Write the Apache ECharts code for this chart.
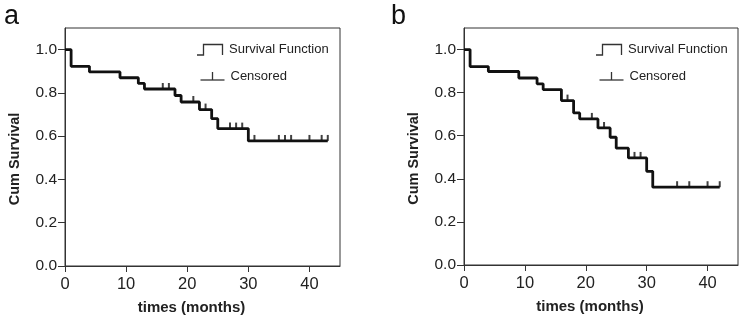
<!DOCTYPE html>
<html>
<head>
<meta charset="utf-8">
<script src="https://cdn.jsdelivr.net/npm/echarts@6/dist/echarts.min.js"></script>
<style>
html,body{margin:0;padding:0;background:#fff;}
#chart{width:744px;height:322px;}
</style>
</head>
<body>
<div id="chart"></div>
<script>
// Panel a: Kaplan-Meier step points (time in months, cumulative survival)
const aTimes = [0, 1, 4, 9, 12, 13, 18, 19, 22, 24, 25, 30, 43];
const aSurv  = [1.0, 0.923, 0.897, 0.870, 0.844, 0.818, 0.788, 0.758, 0.723, 0.681, 0.635, 0.578, 0.578];
const aCensored = [16, 17, 21, 23, 27, 28, 29, 31, 35, 36, 37, 40, 42, 43];

// Panel b
const bTimes = [0, 1, 4, 9, 12, 13, 16, 18, 19, 22, 24, 25, 27, 30, 31, 42];
const bSurv  = [1.0, 0.921, 0.898, 0.868, 0.841, 0.814, 0.763, 0.706, 0.678, 0.636, 0.593, 0.542, 0.497, 0.435, 0.361, 0.361];
const bCensored = [17, 21, 23, 28, 29, 35, 37, 40, 42];

const xTicks = [0, 10, 20, 30, 40];
const yTicks = [0, 0.2, 0.4, 0.6, 0.8, 1.0];
const panelLetters = ['a', 'b'];
const legendNames = ['Survival Function', 'Censored'];
const xTitle = 'times (months)';
const yTitle = 'Cum Survival';

function survAt(times, surv, t) {
  let s = surv[0];
  for (let i = 0; i < times.length; i++) { if (times[i] <= t) s = surv[i]; }
  return s;
}
function pairs(times, surv) { return times.map((t, i) => [t, surv[i]]); }
function censorPts(times, surv, cens) { return cens.map(t => [t, survAt(times, surv, t)]); }

const FONT = "'Liberation Sans', Arial, Helvetica, sans-serif";
const TXT = '#222';
const LINE = '#111';

const grids = [
  {left: 65, top: 28, width: 275, height: 238},
  {left: 464, top: 28, width: 274, height: 237}
];

function xAxisFor(i) {
  return {
    gridIndex: i, type: 'value', min: 0, max: 45,
    name: xTitle, nameLocation: 'middle', nameGap: 34,
    nameTextStyle: {fontFamily: FONT, fontSize: 15, fontWeight: 'bold', color: TXT, padding: [0, 22, 0, 0]},
    axisLine: {show: true, lineStyle: {color: '#333', width: 1}},
    axisTick: {show: true, inside: false, length: 6, lineStyle: {color: '#333'}, customValues: xTicks},
    axisLabel: {fontFamily: FONT, fontSize: 16.5, color: TXT, margin: 10, customValues: xTicks},
    splitLine: {show: false}
  };
}
function yAxisFor(i) {
  return {
    gridIndex: i, type: 'value', min: 0, max: 1.1,
    name: yTitle, nameLocation: 'middle', nameGap: 43, nameRotate: 90,
    nameTextStyle: {fontFamily: FONT, fontSize: 14.5, fontWeight: 'bold', color: TXT, padding: [0, 24, 0, 0]},
    axisLine: {show: true, lineStyle: {color: '#333', width: 1}},
    axisTick: {show: true, inside: false, length: 7, lineStyle: {color: '#333'}, customValues: yTicks},
    axisLabel: {fontFamily: FONT, fontSize: 15.5, color: TXT, margin: 8, customValues: yTicks,
      formatter: v => v.toFixed(1)},
    splitLine: {show: false}
  };
}

const panels = [
  {times: aTimes, surv: aSurv, cens: aCensored},
  {times: bTimes, surv: bSurv, cens: bCensored}
];

const series = [];
panels.forEach((p, i) => {
  series.push({
    type: 'line', name: legendNames[0], xAxisIndex: i, yAxisIndex: i,
    step: 'end', showSymbol: false, symbol: 'none',
    lineStyle: {color: LINE, width: 2.8}, data: pairs(p.times, p.surv), silent: true, animation: false
  });
  series.push({
    type: 'scatter', name: legendNames[1], xAxisIndex: i, yAxisIndex: i,
    symbol: 'rect', symbolSize: [2, 6], symbolOffset: [0, -3],
    itemStyle: {color: LINE}, data: censorPts(p.times, p.surv, p.cens), silent: true, animation: false
  });
});

const graphic = [];
grids.forEach((g, i) => {
  const L = g.left;
  graphic.push({type: 'text', x: i === 0 ? 4 : 391, y: 17,
    style: {text: panelLetters[i], font: '27px ' + FONT, fill: '#111', verticalAlign: 'middle'}});
  graphic.push({type: 'polyline', shape: {points: [[L + 132, 55], [L + 138.5, 55], [L + 138.5, 44.5], [L + 157.5, 44.5], [L + 157.5, 55]]},
    style: {stroke: '#333', lineWidth: 1.3, fill: null}});
  graphic.push({type: 'text', x: L + 164, y: 49.5,
    style: {text: legendNames[0], font: '13px ' + FONT, fill: TXT, verticalAlign: 'middle'}});
  graphic.push({type: 'polyline', shape: {points: [[L + 135.5, 80], [L + 159.5, 80]]},
    style: {stroke: '#333', lineWidth: 1.3, fill: null}});
  graphic.push({type: 'polyline', shape: {points: [[L + 147.5, 72], [L + 147.5, 80]]},
    style: {stroke: '#333', lineWidth: 1.3, fill: null}});
  graphic.push({type: 'text', x: L + 165.5, y: 76,
    style: {text: legendNames[1], font: '13px ' + FONT, fill: TXT, verticalAlign: 'middle'}});
});

const chart = echarts.init(document.getElementById('chart'), null, {renderer: 'canvas'});
chart.setOption({
  animation: false,
  backgroundColor: '#fff',
  grid: grids.map(g => Object.assign({show: true, borderColor: '#333', borderWidth: 1, backgroundColor: 'transparent'}, g)),
  xAxis: [xAxisFor(0), xAxisFor(1)],
  yAxis: [yAxisFor(0), yAxisFor(1)],
  series: series,
  graphic: graphic
});
</script>
</body>
</html>
